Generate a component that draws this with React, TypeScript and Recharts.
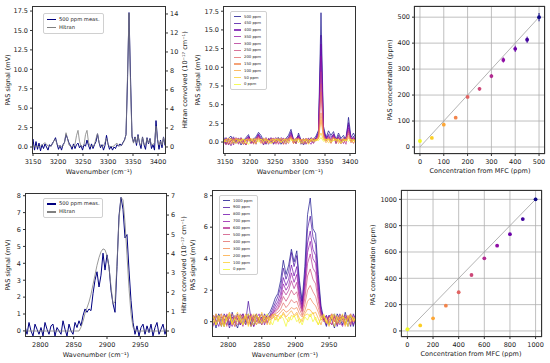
import React from "react";
import {
  LineChart,
  Line,
  XAxis,
  YAxis,
  ScatterChart,
  Scatter,
  ErrorBar,
  CartesianGrid,
  ReferenceLine,
} from "recharts";

const FONT = "'DejaVu Sans', sans-serif";
const AX = "#333";
const PAD_L = 40;
const PAD_R = 40;
const PAD_T = 10;
const PAD_B = 30;

// plasma colormap, high concentration first
const plasma = ["#0d0887", "#41049d", "#6a00a8", "#8f0da4", "#b12a90", "#cc4778", "#e16462", "#f2844b", "#fca636", "#fcce25", "#f0f921"];

// ---------- top left: 500 ppm measurement vs Hitran (3150-3410 cm-1)
const tlX = [3138, 3141, 3144, 3147, 3150, 3153, 3156, 3159, 3162, 3165, 3168, 3171, 3174, 3177, 3180, 3183, 3186, 3189, 3192, 3195, 3198, 3201, 3204, 3207, 3210, 3213, 3216, 3219, 3222, 3225, 3228, 3231, 3234, 3237, 3240, 3243, 3246, 3249, 3252, 3255, 3258, 3261, 3264, 3267, 3270, 3273, 3276, 3279, 3282, 3285, 3288, 3291, 3294, 3297, 3300, 3303, 3306, 3309, 3312, 3315, 3318, 3321, 3324, 3327, 3330, 3333, 3336, 3339, 3342, 3345, 3348, 3351, 3354, 3357, 3360, 3363, 3366, 3369, 3372, 3375, 3378, 3381, 3384, 3387, 3390, 3393, 3396, 3399, 3402, 3405, 3408, 3411, 3414];
const tlMeas = [0.6, -0.2, 0.9, 0.1, 1.0, -0.4, 0.7, -0.3, 0.5, -0.5, 0.3, -0.2, 0.4, 0.0, -0.4, 0.3, 0.1, 0.5, 0.8, 1.2, 0.4, -0.3, 0.2, -0.4, 0.3, 0.6, 1.6, 1.1, 0.5, 0.2, -0.3, 0.4, -0.2, 0.3, 0.5, -0.1, 0.2, -0.4, 0.3, 0.1, 0.9, 0.2, -0.3, 0.4, -0.2, 0.3, 0.7, 1.7, 0.6, -0.1, 0.3, -0.4, 0.2, 1.5, 0.4, -0.3, 0.1, -0.4, 0.0, -0.2, 0.3, 0.1, 0.4, 0.2, 0.6, 0.9, 1.6, 8.5, 17.3, 9.0, 1.4, 0.6, 1.3, 0.2, 1.6, 0.5, -0.2, 1.3, 0.3, -0.3, 1.2, 0.4, 1.1, -0.2, 0.3, -0.4, 3.4, 1.0, -0.3, 0.9, -0.1, 1.3, 0.2];
const tlHitran = [0.05, 0.05, 0.05, 0.05, 0.05, 0.1, 0.05, 0.05, 0.05, 0.1, 0.2, 0.35, 0.45, 0.3, 0.1, 0.05, 0.1, 0.3, 0.7, 0.8, 0.3, 0.1, 0.05, 0.05, 0.1, 0.5, 1.5, 0.9, 0.2, 0.05, 0.05, 0.1, 0.3, 1.2, 1.75, 0.6, 0.1, 0.05, 0.2, 1.3, 1.75, 0.5, 0.1, 0.05, 0.1, 0.3, 0.9, 1.4, 0.5, 0.1, 0.05, 0.1, 0.5, 0.9, 0.3, 0.05, 0.05, 0.05, 0.1, 0.3, 0.4, 0.15, 0.1, 0.2, 0.4, 0.7, 1.3, 7.5, 14.1, 6.5, 1.0, 0.4, 1.0, 0.4, 1.2, 0.4, 0.2, 1.0, 0.3, 0.2, 0.9, 0.4, 0.8, 0.2, 0.3, 0.4, 2.2, 0.8, 0.2, 0.6, 0.2, 1.0, 0.3];

// ---------- top middle: 500..0 ppm (3150-3410 cm-1)
const tmLabels = ["500 ppm", "450 ppm", "400 ppm", "350 ppm", "300 ppm", "250 ppm", "200 ppm", "150 ppm", "100 ppm", "50 ppm", "0 ppm"];
const tmX = [3147, 3152, 3157, 3162, 3167, 3172, 3177, 3182, 3187, 3192, 3197, 3202, 3207, 3212, 3217, 3222, 3227, 3232, 3237, 3242, 3247, 3252, 3257, 3262, 3267, 3272, 3277, 3282, 3287, 3292, 3297, 3302, 3307, 3312, 3317, 3322, 3327, 3332, 3337, 3342, 3347, 3352, 3357, 3362, 3367, 3372, 3377, 3382, 3387, 3392, 3397, 3402, 3407, 3412];
const tm500 = [0.7, -0.3, 0.5, 0.8, -0.2, 0.3, 0.4, -0.4, 0.2, 0.6, 1.0, -0.1, 0.4, 0.7, 1.3, 0.9, 0.2, -0.3, 0.5, 0.1, -0.2, 0.4, 0.6, -0.3, 0.2, 0.5, 0.9, 1.7, 0.3, -0.2, 1.2, 0.3, -0.4, 0.2, 0.5, 0.1, 0.4, 0.8, 1.6, 17.3, 2.1, 0.6, 1.5, 0.9, 1.4, 0.3, 1.2, 0.5, 0.9, 0.2, 3.3, 0.6, 1.2, 0.4];
const tm450 = [0.2, 0.6, -0.4, 0.3, 0.7, -0.1, 0.5, 0.2, -0.3, 0.4, 0.8, 0.3, -0.2, 0.5, 1.1, 0.6, -0.4, 0.3, 0.2, 0.6, -0.3, 0.1, 0.5, 0.2, -0.2, 0.4, 0.6, 1.4, 0.1, 0.5, 0.9, -0.3, 0.2, 0.4, -0.1, 0.6, 0.3, 0.5, 1.4, 14.3, 1.8, 0.3, 1.1, 0.7, 1.0, -0.2, 0.9, 0.4, 0.2, 0.7, 2.6, 0.2, 0.8, -0.1];
const tm400 = [-0.3, 0.4, 0.2, -0.5, 0.5, 0.3, -0.2, 0.6, 0.1, -0.4, 0.7, 0.2, 0.5, -0.3, 1.0, 0.4, 0.2, 0.6, -0.3, 0.3, 0.5, -0.1, 0.2, 0.6, 0.3, -0.3, 0.5, 1.2, 0.4, -0.2, 0.8, 0.1, 0.5, -0.3, 0.3, 0.4, -0.1, 0.6, 1.2, 13.1, 1.6, 0.5, 0.9, 0.2, 1.1, 0.4, 0.7, -0.2, 0.6, 0.3, 2.3, 0.5, 0.4, 0.7];
const tm350 = [0.4, -0.2, 0.3, 0.5, -0.4, 0.6, 0.1, 0.3, -0.3, 0.5, 0.6, -0.2, 0.3, 0.4, 0.9, 0.2, 0.5, -0.2, 0.4, -0.1, 0.3, 0.6, -0.3, 0.2, 0.5, 0.1, 0.4, 1.0, -0.2, 0.3, 0.7, 0.4, -0.2, 0.5, 0.1, -0.3, 0.4, 0.3, 1.1, 11.5, 1.4, 0.2, 0.8, 0.5, 0.9, 0.1, 0.6, 0.3, -0.2, 0.5, 1.9, 0.3, 0.6, 0.1];
const tm300 = [0.1, 0.5, -0.3, 0.2, 0.4, -0.2, 0.3, 0.5, 0.2, -0.4, 0.5, 0.3, -0.1, 0.4, 0.8, 0.1, -0.3, 0.4, 0.2, 0.5, -0.2, 0.3, 0.1, 0.5, -0.3, 0.4, 0.2, 0.9, 0.3, 0.5, 0.6, -0.2, 0.3, 0.1, 0.5, 0.2, -0.2, 0.4, 0.9, 9.4, 1.2, 0.4, 0.6, -0.1, 0.8, 0.3, 0.5, 0.1, 0.4, -0.3, 1.6, 0.4, 0.2, 0.5];
const tm250 = [0.3, -0.4, 0.4, 0.1, 0.5, 0.2, -0.3, 0.4, 0.3, 0.1, 0.6, -0.2, 0.2, 0.5, 0.7, 0.4, 0.1, -0.2, 0.5, 0.2, 0.3, -0.3, 0.4, 0.1, 0.5, 0.2, -0.2, 0.8, 0.4, 0.1, 0.5, 0.3, -0.3, 0.4, 0.2, 0.5, 0.1, 0.3, 0.8, 7.8, 1.0, 0.1, 0.6, 0.3, 0.7, -0.2, 0.5, 0.2, 0.3, 0.4, 1.4, -0.1, 0.5, 0.2];
const tm200 = [-0.2, 0.3, 0.5, -0.1, 0.2, 0.4, 0.5, -0.2, 0.3, 0.2, 0.4, 0.5, -0.3, 0.3, 0.6, -0.1, 0.4, 0.3, -0.2, 0.4, 0.5, 0.1, -0.2, 0.4, 0.3, 0.5, 0.1, 0.7, -0.2, 0.4, 0.5, 0.2, 0.4, -0.2, 0.3, 0.1, 0.5, 0.2, 0.7, 6.7, 0.9, 0.3, 0.5, 0.1, 0.6, 0.4, 0.2, -0.2, 0.5, 0.3, 1.1, 0.3, -0.2, 0.4];
const tm150 = [0.4, 0.1, -0.3, 0.5, 0.3, -0.1, 0.2, 0.5, -0.2, 0.4, 0.3, 0.1, 0.5, -0.2, 0.5, 0.3, -0.2, 0.4, 0.1, 0.3, -0.1, 0.5, 0.3, 0.1, -0.3, 0.3, 0.5, 0.6, 0.1, -0.2, 0.4, 0.3, 0.1, 0.5, -0.2, 0.3, 0.4, 0.1, 0.5, 3.9, 0.7, 0.2, 0.4, -0.2, 0.5, 0.3, 0.1, 0.4, -0.1, 0.5, 0.8, 0.2, 0.4, 0.0];
const tm100 = [0.2, 0.4, 0.1, -0.3, 0.3, 0.5, 0.0, 0.3, 0.4, -0.3, 0.2, 0.4, 0.1, 0.5, 0.3, -0.2, 0.3, 0.5, 0.2, -0.2, 0.4, 0.2, 0.5, -0.1, 0.3, 0.1, 0.4, 0.5, -0.2, 0.3, 0.4, 0.1, -0.2, 0.4, 0.3, 0.0, 0.5, 0.2, 0.4, 3.0, 0.5, -0.1, 0.3, 0.4, 0.2, 0.5, -0.2, 0.3, 0.4, 0.1, 0.6, 0.3, -0.1, 0.4];
const tm50 = [-0.1, 0.3, 0.5, 0.2, -0.2, 0.4, 0.3, 0.1, -0.3, 0.4, 0.2, 0.5, 0.0, -0.2, 0.4, 0.3, 0.5, 0.1, -0.2, 0.3, 0.4, 0.0, 0.3, 0.5, 0.1, -0.2, 0.3, 0.4, 0.2, 0.5, -0.1, 0.3, 0.4, 0.1, -0.3, 0.4, 0.2, 0.3, 0.5, 1.2, 0.3, 0.4, -0.1, 0.2, 0.5, 0.1, 0.3, -0.2, 0.4, 0.2, 0.5, 0.0, 0.3, 0.2];
const tm0 = [0.3, 0.0, 0.2, 0.4, 0.1, -0.2, 0.3, 0.2, 0.4, 0.0, -0.3, 0.2, 0.4, 0.3, 0.0, 0.4, 0.1, 0.3, 0.2, -0.2, 0.1, 0.4, 0.2, 0.0, 0.3, 0.4, -0.1, 0.2, 0.3, 0.1, 0.4, -0.2, 0.2, 0.3, 0.1, 0.4, 0.0, 0.3, 0.2, 0.6, 0.1, 0.3, 0.4, 0.0, 0.2, 0.3, 0.4, -0.1, 0.2, 0.3, 0.1, 0.4, 0.2, 0.0];
const tmSeries = [tm500, tm450, tm400, tm350, tm300, tm250, tm200, tm150, tm100, tm50, tm0];

// ---------- top right: calibration 0-500 ppm
const trX = [0, 50, 100, 150, 200, 250, 300, 350, 400, 450, 500];
const trY = [23, 35, 86, 113, 193, 224, 273, 335, 378, 413, 500];
const trErr = [3, 4, 4, 5, 5, 7, 8, 10, 12, 12, 16];

// ---------- bottom left: 500 ppm measurement vs Hitran (2780-2990 cm-1)
const blX = [2777, 2780, 2783, 2786, 2789, 2792, 2795, 2798, 2801, 2804, 2807, 2810, 2813, 2816, 2819, 2822, 2825, 2828, 2831, 2834, 2837, 2840, 2843, 2846, 2849, 2852, 2855, 2858, 2861, 2864, 2867, 2870, 2873, 2876, 2879, 2882, 2885, 2888, 2891, 2894, 2897, 2900, 2903, 2906, 2909, 2912, 2915, 2918, 2921, 2924, 2927, 2930, 2933, 2936, 2939, 2942, 2945, 2948, 2951, 2954, 2957, 2960, 2963, 2966, 2969, 2972, 2975, 2978, 2981, 2984, 2987, 2990];
const blMeas = [0.3, -0.2, 0.5, 0.0, -0.3, 0.4, 0.1, -0.2, 0.2, -0.3, 0.5, 0.1, -0.2, 0.3, 0.4, -0.3, 0.2, 0.0, -0.2, 0.6, 0.1, -0.3, 0.4, 0.0, -0.2, 0.5, 0.2, 0.6, 0.3, 0.9, 1.3, 1.1, 1.3, 1.2, 2.2, 3.0, 3.5, 2.6, 3.3, 4.6, 3.6, 4.5, 3.8, 2.4, 1.6, 1.1, 3.8, 6.8, 7.9, 7.2, 5.5, 5.7, 3.6, 1.8, 0.5, -0.2, 0.3, -0.3, 0.2, 0.4, -0.2, 0.3, -0.1, 0.4, -0.3, 0.2, 0.5, -0.2, 0.1, 0.4, -0.2, 0.3];
const blHitran = [0, 0, 0, 0, 0, 0, 0, 0, 0, 0, 0, 0, 0, 0, 0, 0, 0, 0, 0, 0, 0, 0, 0, 0, 0, 0, 0, 0, 0.2, 0.5, 0.9, 1.2, 1.5, 1.9, 2.4, 2.9, 3.4, 3.8, 4.1, 4.25, 4.2, 3.9, 3.3, 2.3, 1.4, 1.5, 3.5, 5.8, 6.9, 6.8, 5.6, 3.9, 2.2, 0.9, 0.2, 0.02, 0, 0, 0, 0, 0, 0, 0, 0, 0, 0, 0, 0, 0, 0, 0, 0];

// ---------- bottom middle: 1000..0 ppm (2780-2990 cm-1)
const bmLabels = ["1000 ppm", "900 ppm", "800 ppm", "700 ppm", "600 ppm", "500 ppm", "400 ppm", "300 ppm", "200 ppm", "100 ppm", "0 ppm"];
const bmX = [2778, 2782, 2786, 2790, 2794, 2798, 2802, 2806, 2810, 2814, 2818, 2822, 2826, 2830, 2834, 2838, 2842, 2846, 2850, 2854, 2858, 2862, 2866, 2870, 2874, 2878, 2882, 2886, 2890, 2894, 2898, 2902, 2906, 2910, 2914, 2918, 2922, 2926, 2930, 2934, 2938, 2942, 2946, 2950, 2954, 2958, 2962, 2966, 2970, 2974, 2978, 2982, 2986, 2990];
const bm1000 = [0.3, -0.4, 0.5, 0.1, -0.3, 0.4, -0.2, 0.6, 0.0, -0.4, 0.3, 0.5, -0.2, 0.4, -0.3, 0.2, 0.5, -0.1, 0.3, 0.1, 0.4, 0.6, 1.0, 1.5, 1.8, 2.6, 3.9, 3.0, 3.6, 4.6, 3.8, 4.5, 2.6, 1.3, 3.5, 6.8, 7.85, 5.9, 5.6, 3.0, 1.0, 0.2, -0.3, 0.4, 0.1, -0.4, 0.5, 0.2, -0.2, 0.6, 0.0, 0.4, -0.3, 0.3];
const bm900 = [-0.2, 0.4, 0.1, -0.3, 0.5, 0.2, -0.4, 0.3, 0.1, 0.5, -0.2, 0.3, 0.0, 1.3, 0.2, -0.3, 0.4, 0.1, -0.2, 0.5, 0.2, 0.4, 0.8, 1.2, 1.6, 2.2, 3.4, 2.7, 3.2, 4.4, 3.5, 4.2, 2.3, 1.1, 3.0, 5.9, 6.7, 5.4, 4.9, 2.6, 0.8, 0.1, 0.4, -0.2, 0.3, 0.5, -0.3, 0.2, 0.4, -0.1, 0.3, -0.3, 0.5, 0.1];
const bm800 = [0.4, 0.1, -0.3, 0.3, 0.2, -0.2, 0.5, 0.1, -0.3, 0.2, 0.4, -0.1, 0.3, 0.5, -0.2, 0.4, 0.0, 0.3, 0.5, -0.2, 0.3, 0.3, 0.6, 1.0, 1.3, 1.8, 2.8, 2.3, 2.7, 3.6, 2.9, 3.5, 1.9, 0.9, 2.6, 5.0, 5.75, 4.6, 4.2, 2.2, 0.7, 0.3, -0.2, 0.4, 0.1, 0.3, -0.2, 0.5, 0.1, 0.3, -0.3, 0.4, 0.2, -0.1];
const bm700 = [0.1, 0.5, 0.2, -0.2, 0.4, 0.3, 0.0, -0.3, 0.4, 0.2, -0.2, 0.5, 0.1, 0.3, 0.4, -0.3, 0.2, 0.5, 0.0, 0.3, -0.1, 0.4, 0.5, 0.8, 1.1, 1.5, 2.4, 2.0, 2.3, 3.1, 2.5, 3.0, 1.6, 0.8, 2.3, 4.4, 5.1, 4.0, 3.7, 1.9, 0.6, 0.1, 0.4, 0.0, -0.2, 0.4, 0.2, 0.0, -0.3, 0.4, 0.2, 0.5, -0.2, 0.3];
const bm600 = [-0.3, 0.2, 0.4, 0.1, -0.2, 0.5, 0.2, 0.3, -0.1, 0.4, 0.1, -0.3, 0.3, 0.2, 0.5, 0.1, -0.2, 0.3, 0.2, 0.4, 0.0, 0.2, 0.5, 0.7, 0.9, 1.3, 2.0, 1.7, 2.0, 2.6, 2.1, 2.5, 1.4, 0.7, 1.9, 3.7, 4.3, 3.4, 3.1, 1.6, 0.5, 0.2, -0.1, 0.3, 0.5, 0.0, 0.3, -0.2, 0.4, 0.1, 0.3, -0.1, 0.4, 0.2];
const bm500 = [0.2, 0.0, 0.3, 0.5, -0.1, 0.2, 0.4, -0.2, 0.3, 0.1, 0.5, 0.2, -0.2, 0.4, 0.1, 0.3, 0.4, -0.1, 0.2, 0.0, 0.4, 0.3, 0.4, 0.6, 0.8, 1.1, 1.6, 1.3, 1.6, 2.0, 1.7, 1.9, 1.1, 0.6, 1.5, 2.9, 3.35, 2.7, 2.4, 1.3, 0.4, 0.0, 0.3, 0.2, -0.2, 0.4, 0.1, 0.3, 0.2, -0.2, 0.4, 0.1, 0.2, -0.1];
const bm400 = [0.4, -0.2, 0.1, 0.3, 0.2, -0.3, 0.3, 0.5, 0.0, -0.2, 0.3, 0.4, 0.2, -0.1, 0.3, 0.0, 0.4, 0.2, -0.2, 0.3, 0.2, 0.1, 0.3, 0.5, 0.6, 0.8, 1.2, 0.9, 1.1, 1.4, 1.2, 1.3, 0.8, 0.4, 1.1, 2.0, 2.3, 1.9, 1.6, 0.9, 0.3, 0.2, -0.1, 0.3, 0.4, 0.1, -0.2, 0.3, 0.0, 0.4, 0.2, -0.2, 0.3, 0.1];
const bm300 = [0.0, 0.3, 0.2, -0.2, 0.4, 0.1, 0.3, -0.1, 0.2, 0.4, 0.0, 0.2, 0.3, -0.2, 0.4, 0.2, 0.0, 0.3, 0.4, -0.1, 0.2, 0.3, 0.2, 0.4, 0.4, 0.6, 0.8, 0.6, 0.7, 0.9, 0.8, 0.9, 0.5, 0.3, 0.7, 1.3, 1.5, 1.2, 1.0, 0.6, 0.1, 0.3, 0.2, -0.1, 0.3, 0.0, 0.4, 0.1, 0.3, -0.1, 0.2, 0.4, 0.0, 0.3];
const bm200 = [0.4, -0.2, 0.1, 0.5, -0.3, 0.3, 0.6, 0.0, -0.3, 0.4, 0.2, -0.2, 0.5, 0.1, -0.3, 0.3, 0.5, -0.1, 0.2, 0.4, -0.2, 0.3, 0.5, 0.1, 0.4, 0.2, 0.6, 0.3, 0.5, 0.7, 0.4, 0.6, 0.2, 0.0, 0.5, 0.8, 0.75, 0.5, 0.6, 0.2, -0.2, 0.4, 0.1, -0.3, 0.5, 0.2, -0.1, 0.4, 0.3, -0.3, 0.2, 0.5, 0.0, 0.3];
const bm100 = [-0.1, 0.5, 0.2, -0.3, 0.4, 0.0, 0.5, -0.2, 0.3, 0.6, -0.1, 0.2, 0.4, -0.3, 0.3, 0.5, -0.2, 0.1, 0.6, 0.0, 0.3, -0.2, 0.4, 0.5, 0.1, 0.3, 0.5, 0.2, 0.0, 0.4, 0.3, 0.5, -0.1, 0.2, 0.4, 0.5, 0.3, 0.6, 0.1, -0.2, 0.3, 0.5, -0.1, 0.2, 0.4, -0.3, 0.3, 0.1, 0.5, -0.2, 0.4, 0.0, 0.3, -0.1];
const bm0 = [0.3, -0.2, 0.4, 0.1, -0.3, 0.3, 0.5, -0.1, 0.2, 0.0, 0.4, -0.2, 0.3, 0.5, 0.0, -0.2, 0.4, 0.2, -0.1, 0.3, 0.5, 0.1, -0.2, 0.3, 0.0, 0.4, 0.2, -0.3, 0.3, 0.1, 0.4, 0.0, 0.2, -0.2, 0.3, 0.1, 0.5, 0.0, 0.3, -0.2, 0.2, 0.4, 0.0, -0.2, 0.3, 0.5, 0.1, -0.1, 0.3, 0.2, -0.3, 0.4, 0.1, 0.2];
const bmSeries = [bm1000, bm900, bm800, bm700, bm600, bm500, bm400, bm300, bm200, bm100, bm0];

// ---------- bottom right: calibration 0-1000 ppm
const brX = [0, 100, 200, 300, 400, 500, 600, 700, 800, 900, 1000];
const brY = [13, 42, 96, 192, 294, 425, 552, 648, 735, 850, 1000];
const brErr = [4, 5, 5, 6, 6, 7, 8, 9, 9, 10, 12];

// ---------- ticks
const topWaveTicks = [3150, 3200, 3250, 3300, 3350, 3400];
const botWaveTicks = [2800, 2850, 2900, 2950];
const pasTopTicks = [0, 2.5, 5, 7.5, 10, 12.5, 15, 17.5];
const hitranTopTicks = [0, 2, 4, 6, 8, 10, 12, 14];
const pasBlTicks = [0, 1, 2, 3, 4, 5, 6, 7, 8];
const hitranBlTicks = [0, 1, 2, 3, 4, 5, 6, 7];
const pasBmTicks = [0, 2, 4, 6, 8];
const calTopTicks = [0, 100, 200, 300, 400, 500];
const calBotTicks = [0, 200, 400, 600, 800, 1000];

type Rect = { x0: number; x1: number; y0: number; y1: number };
type LineDef = { key: string; color: string; width: number; opacity?: number; axis?: string };

const tickStyle = { fontSize: 6.5, fill: "#222", fontFamily: FONT };
const fmt1 = (v: number) => v.toFixed(1);

function Frame({ r }: { r: Rect }) {
  return (
    <div
      style={{
        position: "absolute",
        left: r.x0,
        top: r.y0,
        width: r.x1 - r.x0,
        height: r.y1 - r.y0,
        border: `1px solid ${AX}`,
        boxSizing: "border-box",
        pointerEvents: "none",
      }}
    />
  );
}

function Txt({ x, y, rot, children }: { x: number; y: number; rot?: boolean; children: React.ReactNode }) {
  return (
    <div
      style={{
        position: "absolute",
        left: x,
        top: y,
        transform: `translate(-50%, -50%)${rot ? " rotate(-90deg)" : ""}`,
        fontSize: 6.5,
        fontFamily: FONT,
        color: "#222",
        whiteSpace: "nowrap",
        lineHeight: 1,
      }}
    >
      {children}
    </div>
  );
}

function LegendBox(props: {
  left: number;
  top: number;
  width: number;
  rowH: number;
  font: number;
  lineLen: number;
  items: { label: string; color: string; op?: number }[];
}) {
  return (
    <div
      style={{
        position: "absolute",
        left: props.left,
        top: props.top,
        width: props.width,
        padding: "1px 0",
        border: "0.8px solid #d0d0d0",
        borderRadius: 2,
        background: "rgba(255,255,255,0.85)",
        boxSizing: "border-box",
        fontFamily: FONT,
      }}
    >
      {props.items.map((it) => (
        <div key={it.label} style={{ display: "flex", alignItems: "center", height: props.rowH }}>
          <div style={{ marginLeft: 3, width: props.lineLen, height: 1.2, background: it.color, opacity: it.op ?? 1 }} />
          <span style={{ marginLeft: 3, fontSize: props.font, color: "#222", lineHeight: 1, whiteSpace: "nowrap" }}>
            {it.label}
          </span>
        </div>
      ))}
    </div>
  );
}

function Spectrum(props: {
  r: Rect;
  rows: Record<string, number>[];
  xDomain: number[];
  xTicks: number[];
  yDomain: number[];
  yTicks: number[];
  yFmt?: (v: number) => string;
  rDomain?: number[];
  rTicks?: number[];
  lines: LineDef[];
}) {
  const { r } = props;
  const hasR = !!props.rDomain;
  return (
    <>
      <div style={{ position: "absolute", left: r.x0 - PAD_L, top: r.y0 - PAD_T }}>
        <LineChart
          width={r.x1 - r.x0 + PAD_L + PAD_R}
          height={r.y1 - r.y0 + PAD_T + PAD_B}
          data={props.rows}
          margin={{ top: PAD_T, left: 0, right: hasR ? 0 : PAD_R, bottom: 0 }}
        >
          <XAxis
            type="number"
            dataKey="x"
            domain={props.xDomain}
            ticks={props.xTicks}
            allowDataOverflow
            interval={0}
            height={PAD_B}
            axisLine={false}
            tickLine={{ stroke: AX }}
            tickSize={2}
            tickMargin={3}
            tick={tickStyle}
          />
          <YAxis
            yAxisId="l"
            type="number"
            domain={props.yDomain}
            ticks={props.yTicks}
            allowDataOverflow
            interval={0}
            width={PAD_L}
            axisLine={false}
            tickLine={{ stroke: AX }}
            tickSize={2}
            tickMargin={2}
            tick={tickStyle}
            tickFormatter={props.yFmt}
          />
          {hasR && (
            <YAxis
              yAxisId="r"
              orientation="right"
              type="number"
              domain={props.rDomain}
              ticks={props.rTicks}
              allowDataOverflow
              interval={0}
              width={PAD_R}
              axisLine={false}
              tickLine={{ stroke: AX }}
              tickSize={2}
              tickMargin={2}
              tick={tickStyle}
            />
          )}
          {props.lines.map((l) => (
            <Line
              key={l.key}
              yAxisId={l.axis ?? "l"}
              dataKey={l.key}
              type="linear"
              stroke={l.color}
              strokeWidth={l.width}
              strokeOpacity={l.opacity ?? 1}
              dot={false}
              activeDot={false}
              isAnimationActive={false}
            />
          ))}
        </LineChart>
      </div>
      <Frame r={r} />
    </>
  );
}

function Calibration(props: {
  r: Rect;
  xs: number[];
  ys: number[];
  errs: number[];
  xDomain: number[];
  yDomain: number[];
  ticks: number[];
  diagMax: number;
}) {
  const { r } = props;
  const n = props.xs.length;
  return (
    <>
      <div style={{ position: "absolute", left: r.x0 - PAD_L, top: r.y0 - PAD_T }}>
        <ScatterChart
          width={r.x1 - r.x0 + PAD_L + PAD_R}
          height={r.y1 - r.y0 + PAD_T + PAD_B}
          margin={{ top: PAD_T, left: 0, right: PAD_R, bottom: 0 }}
        >
          <CartesianGrid stroke="#b0b0b0" strokeWidth={0.8} />
          <XAxis
            type="number"
            dataKey="x"
            domain={props.xDomain}
            ticks={props.ticks}
            allowDataOverflow
            interval={0}
            height={PAD_B}
            axisLine={false}
            tickLine={{ stroke: AX }}
            tickSize={2}
            tickMargin={3}
            tick={tickStyle}
          />
          <YAxis
            type="number"
            dataKey="y"
            domain={props.yDomain}
            ticks={props.ticks}
            allowDataOverflow
            interval={0}
            width={PAD_L}
            axisLine={false}
            tickLine={{ stroke: AX }}
            tickSize={2}
            tickMargin={2}
            tick={tickStyle}
          />
          <ReferenceLine
            segment={[
              { x: 0, y: 0 },
              { x: props.diagMax, y: props.diagMax },
            ]}
            stroke="#a0a0a0"
            strokeWidth={0.8}
          />
          {props.xs.map((x, i) => {
            const c = plasma[n - 1 - i];
            return (
              <Scatter
                key={x}
                data={[{ x, y: props.ys[i], err: props.errs[i] }]}
                fill={c}
                isAnimationActive={false}
                shape={(p: any) => <circle cx={p.cx} cy={p.cy} r={1.9} fill={c} />}
              >
                <ErrorBar dataKey="err" direction="y" width={0} stroke={c} strokeWidth={1} />
              </Scatter>
            );
          })}
        </ScatterChart>
      </div>
      <Frame r={r} />
    </>
  );
}

const tlRows = tlX.map((x, i) => ({ x, meas: tlMeas[i], hitran: tlHitran[i] }));
const blRows = blX.map((x, i) => ({ x, meas: blMeas[i], hitran: blHitran[i] }));
const tmRows = tmX.map((x, i) => {
  const row: Record<string, number> = { x };
  tmSeries.forEach((s, j) => (row["s" + j] = s[i]));
  return row;
});
const bmRows = bmX.map((x, i) => {
  const row: Record<string, number> = { x };
  bmSeries.forEach((s, j) => (row["s" + j] = s[i]));
  return row;
});

const NAVY = "#000080";
const GREY = "#808080";
const hitranTitle = "Hitran convolved (10\u207B\u00B9\u2077 cm\u207B\u00B9)";
const waveTitle = "Wavenumber (cm\u207B\u00B9)";

export default function App() {
  const tl: Rect = { x0: 32, x1: 166, y0: 6, y1: 154 };
  const tm: Rect = { x0: 223, x1: 356, y0: 6, y1: 154 };
  const tr: Rect = { x0: 414, x1: 545, y0: 6, y1: 154 };
  const bl: Rect = { x0: 25, x1: 167, y0: 193, y1: 337 };
  const bm: Rect = { x0: 212, x1: 356, y0: 190, y1: 337 };
  const br: Rect = { x0: 401, x1: 542, y0: 190, y1: 337 };

  const pairLines: LineDef[] = [
    { key: "meas", color: NAVY, width: 1 },
    { key: "hitran", color: GREY, width: 0.8, axis: "r" },
  ];
  const multi = (labels: string[]): LineDef[] =>
    labels.map((_, j) => ({ key: "s" + j, color: plasma[j], width: 0.9, opacity: 0.75 }));

  return (
    <div
      style={{
        position: "absolute",
        left: 0,
        top: 0,
        width: 550,
        height: 363,
        background: "#fff",
        overflow: "hidden",
        fontFamily: FONT,
      }}
    >
      <Spectrum
        r={tl}
        rows={tlRows}
        xDomain={[3148, 3416]}
        xTicks={topWaveTicks}
        yDomain={[-0.9, 18.15]}
        yTicks={pasTopTicks}
        yFmt={fmt1}
        rDomain={[-0.74, 14.84]}
        rTicks={hitranTopTicks}
        lines={pairLines}
      />
      <Spectrum
        r={tm}
        rows={tmRows}
        xDomain={[3146, 3412]}
        xTicks={topWaveTicks}
        yDomain={[-1.6, 18.2]}
        yTicks={pasTopTicks}
        yFmt={fmt1}
        lines={multi(tmLabels)}
      />
      <Calibration
        r={tr}
        xs={trX}
        ys={trY}
        errs={trErr}
        xDomain={[-25, 525]}
        yDomain={[-27, 543]}
        ticks={calTopTicks}
        diagMax={500}
      />
      <Spectrum
        r={bl}
        rows={blRows}
        xDomain={[2777, 2990]}
        xTicks={botWaveTicks}
        yDomain={[-0.36, 8.16]}
        yTicks={pasBlTicks}
        rDomain={[-0.31, 7.14]}
        rTicks={hitranBlTicks}
        lines={pairLines}
      />
      <Spectrum
        r={bm}
        rows={bmRows}
        xDomain={[2776, 2990]}
        xTicks={botWaveTicks}
        yDomain={[-0.97, 8.36]}
        yTicks={pasBmTicks}
        lines={multi(bmLabels)}
      />
      <Calibration
        r={br}
        xs={brX}
        ys={brY}
        errs={brErr}
        xDomain={[-50, 1050]}
        yDomain={[-46, 1071]}
        ticks={calBotTicks}
        diagMax={1000}
      />

      <LegendBox
        left={43}
        top={13}
        width={61}
        rowH={8.5}
        font={5.2}
        lineLen={9}
        items={[
          { label: "500 ppm meas.", color: NAVY },
          { label: "Hitran", color: GREY },
        ]}
      />
      <LegendBox
        left={230}
        top={11}
        width={37}
        rowH={6.8}
        font={3.8}
        lineLen={7}
        items={tmLabels.map((l, j) => ({ label: l, color: plasma[j], op: 0.75 }))}
      />
      <LegendBox
        left={43}
        top={198}
        width={60}
        rowH={8}
        font={5.2}
        lineLen={9}
        items={[
          { label: "500 ppm meas.", color: NAVY },
          { label: "Hitran", color: GREY },
        ]}
      />
      <LegendBox
        left={219}
        top={195}
        width={39}
        rowH={6.9}
        font={3.8}
        lineLen={7}
        items={bmLabels.map((l, j) => ({ label: l, color: plasma[j], op: 0.75 }))}
      />

      <Txt x={8} y={80} rot>PAS signal (mV)</Txt>
      <Txt x={99} y={172}>{waveTitle}</Txt>
      <Txt x={185} y={80} rot>{hitranTitle}</Txt>
      <Txt x={198} y={80} rot>PAS signal (mV)</Txt>
      <Txt x={290} y={172}>{waveTitle}</Txt>
      <Txt x={390} y={80} rot>PAS concentration (ppm)</Txt>
      <Txt x={480} y={171}>Concentration from MFC (ppm)</Txt>

      <Txt x={8} y={265} rot>PAS signal (mV)</Txt>
      <Txt x={96} y={355}>{waveTitle}</Txt>
      <Txt x={184} y={265} rot>{hitranTitle}</Txt>
      <Txt x={193} y={265} rot>PAS signal (mV)</Txt>
      <Txt x={285} y={355}>{waveTitle}</Txt>
      <Txt x={373} y={265} rot>PAS concentration (ppm)</Txt>
      <Txt x={471} y={354}>Concentration from MFC (ppm)</Txt>
    </div>
  );
}
